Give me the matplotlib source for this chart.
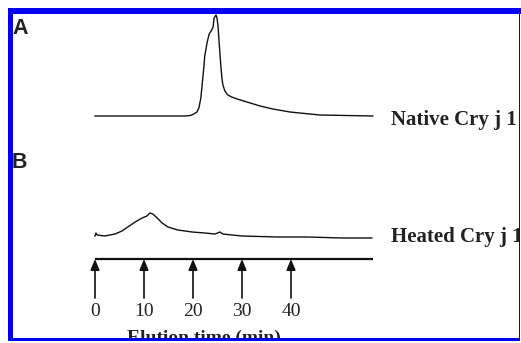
import matplotlib
matplotlib.use("Agg")
import matplotlib.pyplot as plt
from matplotlib.patches import Rectangle
import numpy as np

# ---- data (elution time in min, signal in arbitrary units) ----
native_time = [0, 18.4, 19.4, 20.0, 20.8, 21.2, 21.6, 21.8, 22.2, 22.4, 22.9, 23.3,
               23.7, 24.1, 24.3, 24.7, 24.9, 25.1, 25.3, 25.5, 25.7, 25.9, 26.1,
               26.5, 27.1, 27.9, 29.0, 31.0, 33.7, 36.3, 39.8, 41.8, 45.9, 56.7]
native_signal = [0, 0, 0.5, 1.5, 4, 8, 18, 28, 48, 60, 74, 82,
                 85, 89, 98, 101, 98, 90, 76, 62, 49, 38, 31,
                 25, 21, 19, 17, 14, 10, 7, 4, 3, 1, 0]

heated_time = [0, 0.2, 0.4, 2.0, 4.1, 5.5, 6.7, 8.2, 9.6, 10.6, 11.2, 11.8, 12.7, 13.7,
               14.9, 16.9, 19.8, 22.4, 24.5, 25.5, 26.1, 28.0, 30.0, 37.3, 43.5, 50.4, 56.5]
heated_signal = [1, 4, 2, 1, 3, 6, 10, 15, 19, 21, 24, 23, 19, 14,
                 10, 7, 5, 4, 3, 5, 3, 2, 1, 0, 0, -1, -1]

tick_times = [0, 10, 20, 30, 40]
tick_labels = ["0", "10", "20", "30", "40"]
axis_end_time = 56.7

panel_labels = ["A", "B"]
trace_labels = ["Native Cry j 1", "Heated Cry j 1"]
xlabel = "Elution time (min)"

# ---- layout ----
W, H = 521, 343
X0_PX, PX_PER_MIN = 95, 4.9
NATIVE_BASE, HEATED_BASE = 116, 237
AXIS_ROW, ARROW_BOTTOM = 259, 298

def t_of(px):
    return (px - X0_PX) / PX_PER_MIN

fig = plt.figure(figsize=(W / 100, H / 100), dpi=100)
fig.patch.set_facecolor("white")
ax = fig.add_axes([0, 0, 1, 1])
ax.set_xlim(t_of(0), t_of(W))
ax.set_ylim(H, 0)
ax.axis("off")

# traces
ax.plot(native_time, NATIVE_BASE - np.array(native_signal), color="#111111", lw=1.0)
ax.plot(heated_time, HEATED_BASE - np.array(heated_signal), color="#111111", lw=1.0)

# time axis line and arrows
ax.plot([0, axis_end_time], [AXIS_ROW, AXIS_ROW], color="#111111", lw=1.6,
        solid_capstyle="butt")
for t, lab in zip(tick_times, tick_labels):
    ax.annotate("", xy=(t, AXIS_ROW), xytext=(t, ARROW_BOTTOM),
                arrowprops=dict(arrowstyle="-|>,head_length=0.65,head_width=0.27",
                                color="#111111", lw=1.2, shrinkA=0, shrinkB=0,
                                mutation_scale=10))
    ax.text(t, 316, lab, ha="center", va="baseline", fontsize=14,
            family="Liberation Serif", color="#222222")

ax.text(t_of(204), 343, xlabel, ha="center", va="baseline", fontsize=14,
        family="Liberation Serif", fontweight="bold", color="#222222")

# trace labels
ax.text(t_of(391), 125, trace_labels[0], ha="left", va="baseline", fontsize=15,
        family="Liberation Serif", fontweight="bold", color="#222222")
ax.text(t_of(391), 242, trace_labels[1], ha="left", va="baseline", fontsize=15,
        family="Liberation Serif", fontweight="bold", color="#222222")

# panel letters
ax.text(t_of(12), 34, panel_labels[0], ha="left", va="baseline", fontsize=15.5,
        family="Liberation Sans", fontweight="bold", color="#222222")
ax.text(t_of(12), 168, panel_labels[1], ha="left", va="baseline", fontsize=15.5,
        family="Liberation Sans", fontweight="bold", color="#222222")

# blue frame (figure pixel coordinates, y from top)
def rect(x0, y0, x1, y1, color):
    r = Rectangle((x0 / W, 1 - y1 / H), (x1 - x0) / W, (y1 - y0) / H,
                  transform=fig.transFigure, facecolor=color, edgecolor="none",
                  zorder=20)
    fig.add_artist(r)

BLUE = "#0000ee"
rect(0, 341, W, H, "white")
rect(520.2, 0, W, H, "white")
rect(7.5, 8, W, 13.5, BLUE)          # top
rect(7.5, 8, 13, 341, BLUE)          # left
rect(519, 8, 520.2, 341, BLUE)       # right
rect(7.5, 337.5, 520.2, 341, BLUE)   # bottom

fig.savefig("out.png", dpi=100, facecolor="white")
